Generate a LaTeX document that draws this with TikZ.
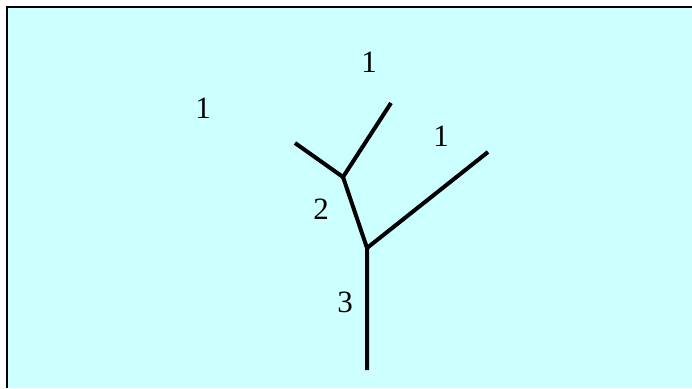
\documentclass[tikz,border=0pt]{standalone}
\usepackage{fontspec}
\setmainfont{Liberation Serif}
\definecolor{bgcyan}{HTML}{CCFFFF}
\begin{document}
\begin{tikzpicture}[x=1pt,y=-1pt,
  branch/.style={line width=4pt,line join=miter},
  lbl/.style={font=\fontsize{31}{33}\selectfont,inner sep=0pt}]
\useasboundingbox (0,0) rectangle (692,388);
\fill[bgcyan] (7,7) rectangle (692,388);
\draw[line width=2pt] (7,388) -- (7,7) -- (692,7);
\coordinate (bot) at (367,370);
\coordinate (j1) at (367,248);
\coordinate (j2) at (343,177);
\coordinate (rt) at (488,152);
\coordinate (lf) at (295,143);
\coordinate (tp) at (391,103);
\draw[branch] (bot) -- (j1) -- (j2) -- (tp);
\draw[branch] (j1) -- (rt);
\draw[branch] (j2) -- (lf);
\node[lbl] (a) at (369,62) {1};
\node[lbl] (b) at (203,108) {1};
\node[lbl] (c) at (441,136) {1};
\node[lbl] (d) at (321,209) {2};
\node[lbl] (e) at (345,302) {3};
\end{tikzpicture}
\end{document}
